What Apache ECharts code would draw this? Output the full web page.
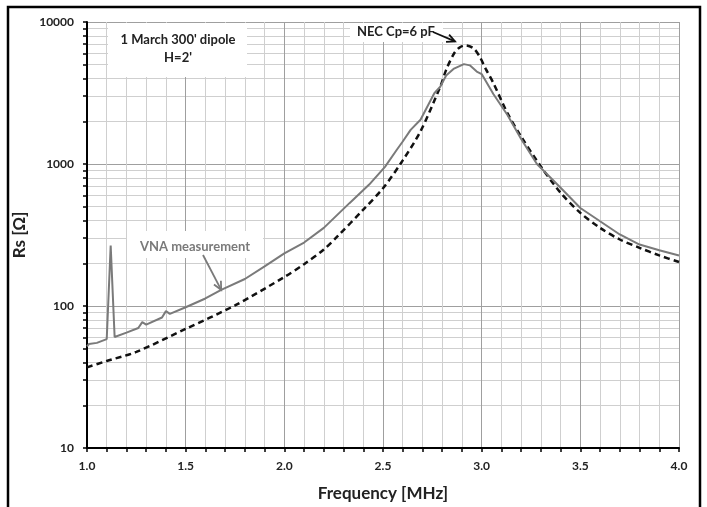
<!DOCTYPE html>
<html>
<head>
<meta charset="utf-8">
<script src="https://cdn.jsdelivr.net/npm/echarts@6/dist/echarts.min.js"></script>
<style>html,body{margin:0;padding:0;background:#fff;}#c{width:707px;height:507px;}</style>
</head>
<body>
<div id="c"></div>
<script>
// ---- data ----
const vnaFreq = [1.00,1.01,1.05,1.10,1.12,1.14,1.20,1.26,1.28,1.30,1.38,1.40,1.42,1.50,1.60,1.68,1.80,1.90,2.00,2.10,2.20,2.33,2.43,2.51,2.57,2.60,2.64,2.69,2.76,2.79,2.82,2.86,2.91,2.94,2.975,3.00,3.06,3.13,3.20,3.28,3.40,3.50,3.60,3.70,3.80,3.90,4.00];
const vnaRs   = [52,54,55,58.5,267,60.5,65,70,77,74,83,92,88,98,113,130,155,190,235,280,355,530,716,955,1260,1440,1740,2050,3150,3500,4200,4700,5050,4950,4480,4300,3100,2220,1500,1000,680,490,395,319,271,247,227];
const necFreq = [1.00,1.10,1.25,1.50,1.75,2.00,2.10,2.20,2.27,2.40,2.50,2.60,2.69,2.79,2.82,2.86,2.89,2.92,2.96,2.99,3.02,3.06,3.13,3.20,3.30,3.40,3.50,3.60,3.70,3.80,3.90,4.00];
const necRs   = [37,41,47.5,69,101,160,197,250,310,477,675,1060,1700,3500,4600,6000,6650,6850,6500,5700,4700,3700,2290,1560,960,627,453,355,294,257,227,204];
const xMajorTicks = [1.0,1.5,2.0,2.5,3.0,3.5,4.0];
const yMajorTicks = [10,100,1000,10000];
const yMinorTicks = [20,30,40,50,60,70,80,90,200,300,400,500,600,700,800,900,2000,3000,4000,5000,6000,7000,8000,9000];
const labelVNA = 'VNA measurement';
const labelNEC = 'NEC Cp=6 pF';
const titleLines = ["1 March 300' dipole", "H=2'"];

const FONT = 'Lato';
const chart = echarts.init(document.getElementById('c'), null, {renderer: 'canvas'});
const pairs = (xs, ys) => xs.map((x, i) => [x, ys[i]]);

const option = {
  backgroundColor: '#fff',
  animation: false,
  grid: {left: 87, right: 28, top: 22, bottom: 58, containLabel: false},
  xAxis: [
    {type: 'value', min: 1, max: 4, interval: 0.1, position: 'bottom',
     axisLine: {show: true, lineStyle: {color: '#000', width: 2}},
     axisTick: {show: true, inside: false, length: 4, lineStyle: {color: '#000', width: 1.5}},
     axisLabel: {show: false},
     splitLine: {show: true, lineStyle: {color: '#cfcfcf', width: 1}}},
    {type: 'value', min: 1, max: 4, interval: 0.5, position: 'bottom',
     axisLine: {show: false}, axisTick: {show: false},
     axisLabel: {show: true, margin: 12, color: '#222', fontFamily: FONT, fontWeight: 'bold', fontSize: 12,
       customValues: xMajorTicks, formatter: v => v.toFixed(1)},
     splitLine: {show: true, lineStyle: {color: '#9f9f9f', width: 1}},
     name: 'Frequency [MHz]', nameLocation: 'middle', nameGap: 37,
     nameTextStyle: {color: '#222', fontFamily: FONT, fontWeight: 'bold', fontSize: 17}}
  ],
  yAxis: [
    {type: 'log', logBase: 10, min: 10, max: 10000, position: 'left',
     axisLine: {show: true, lineStyle: {color: '#000', width: 2}},
     axisTick: {show: true, inside: false, length: 4, lineStyle: {color: '#000', width: 1.5},
       customValues: yMinorTicks.concat(yMajorTicks)},
     axisLabel: {show: false},
     splitLine: {show: true, lineStyle: {color: '#cfcfcf', width: 1}}},
    {type: 'log', logBase: 10, min: 10, max: 10000, position: 'left',
     axisLine: {show: false}, axisTick: {show: false},
     axisLabel: {show: true, margin: 13, color: '#222', fontFamily: FONT, fontWeight: 'bold', fontSize: 12,
       formatter: v => String(Math.round(v))},
     splitLine: {show: true, lineStyle: {color: '#9f9f9f', width: 1}},
     name: 'Rs [Ω]', nameLocation: 'middle', nameGap: 50, nameRotate: 90,
     nameTextStyle: {color: '#222', fontFamily: FONT, fontWeight: 'bold', fontSize: 17}}
  ],
  series: [
    {name: 'NEC', type: 'line', xAxisIndex: 0, yAxisIndex: 0, data: pairs(necFreq, necRs),
     smooth: 0.3, showSymbol: false, z: 3,
     lineStyle: {color: '#111', width: 2.5, type: [6, 4]}},
    {name: 'VNA', type: 'line', xAxisIndex: 0, yAxisIndex: 0, data: pairs(vnaFreq, vnaRs),
     smooth: false, showSymbol: false, z: 4,
     lineStyle: {color: '#7a7a7a', width: 2}}
  ]
};
chart.setOption(option);

// annotations (positioned from data coordinates)
const px = (f, r) => chart.convertToPixel({xAxisIndex: 0, yAxisIndex: 0}, [f, r]);
function arrow(from, to, color) {
  const ang = Math.atan2(to[1] - from[1], to[0] - from[0]);
  const L = 9, a = 0.45;
  const p1 = [to[0] - L * Math.cos(ang - a), to[1] - L * Math.sin(ang - a)];
  const p2 = [to[0] - L * Math.cos(ang + a), to[1] - L * Math.sin(ang + a)];
  return [
    {type: 'line', shape: {x1: from[0], y1: from[1], x2: to[0], y2: to[1]}, style: {stroke: color, lineWidth: 1.8}, z: 20},
    {type: 'polyline', shape: {points: [p1, to, p2]}, style: {stroke: color, lineWidth: 1.8, fill: null}, z: 20}
  ];
}
const necTip = px(2.865, 7300);
const vnaTip = px(1.68, 130);
const graphics = [
  {type: 'rect', shape: {x: 8, y: 7, width: 692, height: 520}, style: {fill: null, stroke: '#000', lineWidth: 2.5}, z: 30},
  {type: 'rect', shape: {x: 108, y: 23, width: 139, height: 54}, style: {fill: '#fff'}, z: 10},
  {type: 'text', x: 178, y: 40, style: {text: titleLines[0], font: 'bold 13px ' + FONT, fill: '#222', align: 'center', verticalAlign: 'middle'}, z: 11},
  {type: 'text', x: 178, y: 58, style: {text: titleLines[1], font: 'bold 13px ' + FONT, fill: '#222', align: 'center', verticalAlign: 'middle'}, z: 11},
  {type: 'rect', shape: {x: 350, y: 23, width: 93, height: 19}, style: {fill: '#fff'}, z: 10},
  {type: 'text', x: 357, y: 32, style: {text: labelNEC, font: 'bold 13px ' + FONT, fill: '#222', align: 'left', verticalAlign: 'middle'}, z: 11},
  {type: 'rect', shape: {x: 127, y: 231, width: 136, height: 27}, style: {fill: '#fff'}, z: 10},
  {type: 'text', x: 195, y: 247, style: {text: labelVNA, font: 'bold 13px ' + FONT, fill: '#7a7a7a', align: 'center', verticalAlign: 'middle'}, z: 11}
].concat(arrow([433, 32], necTip, '#111'), arrow([203, 255], vnaTip, '#7a7a7a'));
chart.setOption({graphic: graphics});
</script>
</body>
</html>
